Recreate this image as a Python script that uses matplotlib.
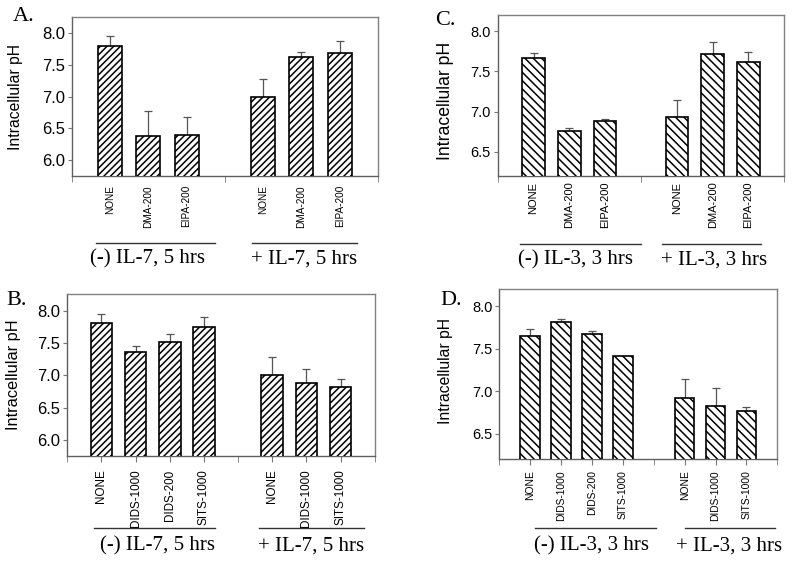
import numpy as np
import matplotlib
matplotlib.use('Agg')
import matplotlib.pyplot as plt
from matplotlib.lines import Line2D

plt.rcParams['hatch.linewidth'] = 1.1
plt.rcParams['hatch.color'] = 'black'
SANS = ['Liberation Sans', 'DejaVu Sans']
SERIF = ['Liberation Serif', 'DejaVu Serif']
W, H = 792, 562

# A: IL-7, Na+/H+ exchange inhibitors
cats_a = ['NONE', 'DMA-200', 'EIPA-200', 'NONE', 'DMA-200', 'EIPA-200']
vals_a = [7.80, 6.38, 6.40, 7.00, 7.62, 7.69]
errs_a = [0.16, 0.40, 0.28, 0.28, 0.09, 0.19]
groups_a = ['(-) IL-7, 5 hrs', '+ IL-7, 5 hrs']

# B: IL-7, anion exchange inhibitors
cats_b = ['NONE', 'DIDS-1000', 'DIDS-200', 'SITS-1000', 'NONE', 'DIDS-1000', 'SITS-1000']
vals_b = [7.80, 7.36, 7.52, 7.75, 7.00, 6.88, 6.82]
errs_b = [0.15, 0.09, 0.11, 0.15, 0.28, 0.21, 0.13]
groups_b = ['(-) IL-7, 5 hrs', '+ IL-7, 5 hrs']

# C: IL-3, Na+/H+ exchange inhibitors
cats_c = ['NONE', 'DMA-200', 'EIPA-200', 'NONE', 'DMA-200', 'EIPA-200']
vals_c = [7.66, 6.765, 6.885, 6.93, 7.72, 7.615]
errs_c = [0.07, 0.035, 0.025, 0.22, 0.14, 0.125]
groups_c = ['(-) IL-3, 3 hrs', '+ IL-3, 3 hrs']

# D: IL-3, anion exchange inhibitors
cats_d = ['NONE', 'DIDS-1000', 'DIDS-200', 'SITS-1000', 'NONE', 'DIDS-1000', 'SITS-1000']
vals_d = [7.65, 7.81, 7.675, 7.42, 6.92, 6.83, 6.77]
errs_d = [0.08, 0.04, 0.035, 0.0, 0.22, 0.21, 0.04]
groups_d = ['(-) IL-3, 3 hrs', '+ IL-3, 3 hrs']


def fx(x):
    return x / W


def fy(y):
    return 1 - y / H


fig = plt.figure(figsize=(W / 100, H / 100), dpi=100)
fig.patch.set_facecolor('white')


def panel(letter, cats, vals, errs, n_first, groups, box, ylim, yticks, hatch,
          all_ticks, ytick_fs, xtick_fs, xpad, ylab_fs, ylab_xy, letter_xy,
          lines, texts):
    l, t, r, b = box
    ax = fig.add_axes([fx(l), fy(b), fx(r) - fx(l), fy(t) - fy(b)])
    n = len(vals)
    pos = list(range(1, n_first + 1)) + list(range(n_first + 2, n + 2))
    ax.bar(pos, vals, width=0.63, color='white', edgecolor='black', lw=1.2,
           hatch=hatch, zorder=3)
    ax.errorbar(pos, vals, yerr=[np.zeros(n), errs], fmt='none', ecolor='#555555',
                elinewidth=0.9, capsize=2.6, capthick=0.9, zorder=2)
    ax.set_xlim(0, n + 2)
    ax.set_ylim(*ylim)
    ax.set_yticks(yticks)
    ax.set_yticklabels(['%.1f' % v for v in yticks], fontsize=ytick_fs, family=SANS)
    ax.set_xticks(pos)
    ax.set_xticklabels(cats, rotation=90, fontsize=xtick_fs, family=SANS, va='top')
    ax.set_xticks([0, n_first + 1, n + 2], minor=True)
    ax.tick_params(axis='x', which='minor', length=4, color='#777777', direction='out')
    ax.tick_params(axis='x', which='major', length=4 if all_ticks else 0,
                   color='#777777', pad=xpad)
    ax.tick_params(axis='y', length=3, color='#777777', pad=2)
    for s in ax.spines.values():
        s.set_color('#808080')
        s.set_linewidth(1.0)
    ax.spines['left'].set_color('#606060')
    ax.spines['bottom'].set_color('#606060')
    fig.text(fx(ylab_xy[0]), fy(ylab_xy[1]), 'Intracellular pH', rotation=90,
             ha='center', va='center', fontsize=ylab_fs, family=SANS)
    fig.text(fx(letter_xy[0]), fy(letter_xy[1]), letter, ha='left', va='baseline',
             fontsize=16, family=SERIF)
    for (x0, x1, y) in lines:
        fig.add_artist(Line2D([fx(x0), fx(x1)], [fy(y), fy(y)], color='#333333', lw=1.0))
    for g, (x, y) in zip(groups, texts):
        fig.text(fx(x), fy(y), g, ha='center', va='center', fontsize=15, family=SERIF)
    return ax


panel('A.', cats_a, vals_a, errs_a, 3, groups_a,
      box=(71.7, 17.3, 378, 176), ylim=(5.75, 8.25), yticks=[6.0, 6.5, 7.0, 7.5, 8.0],
      hatch='/////', all_ticks=False, ytick_fs=12, xtick_fs=7.2, xpad=6.5,
      ylab_fs=11.3, ylab_xy=(16, 97.5), letter_xy=(13, 20.7),
      lines=[(96, 215, 243.3), (251.7, 357.3, 243.3)],
      texts=[(147.5, 259), (304, 259.5)])

panel('B.', cats_b, vals_b, errs_b, 4, groups_b,
      box=(67.3, 294.3, 374.7, 456.3), ylim=(5.75, 8.25), yticks=[6.0, 6.5, 7.0, 7.5, 8.0],
      hatch='/////', all_ticks=True, ytick_fs=12, xtick_fs=8.4, xpad=5.5,
      ylab_fs=11.8, ylab_xy=(13.7, 375), letter_xy=(6.7, 305),
      lines=[(94.3, 215, 528.3), (259.3, 364, 528.3)],
      texts=[(158, 546), (311, 546.5)])

panel('C.', cats_c, vals_c, errs_c, 3, groups_c,
      box=(497.7, 15, 784.3, 176), ylim=(6.2, 8.2), yticks=[6.5, 7.0, 7.5, 8.0],
      hatch='\\\\\\\\', all_ticks=False, ytick_fs=10.5, xtick_fs=8.0, xpad=4,
      ylab_fs=12.7, ylab_xy=(445, 100.8), letter_xy=(435, 25),
      lines=[(520, 640.7, 244.3), (662.3, 760.7, 244.3)],
      texts=[(575, 260), (714, 260)])

panel('D.', cats_d, vals_d, errs_d, 4, groups_d,
      box=(499.3, 289.3, 777.3, 459.3), ylim=(6.2, 8.2), yticks=[6.5, 7.0, 7.5, 8.0],
      hatch='\\\\\\\\', all_ticks=True, ytick_fs=10.5, xtick_fs=7.4, xpad=4,
      ylab_fs=11.3, ylab_xy=(445.8, 371.5), letter_xy=(440, 305),
      lines=[(535, 656, 528.3), (685, 775, 528.3)],
      texts=[(591.7, 545.7), (728.7, 545.7)])

fig.savefig('out.png', dpi=100, facecolor='white')
